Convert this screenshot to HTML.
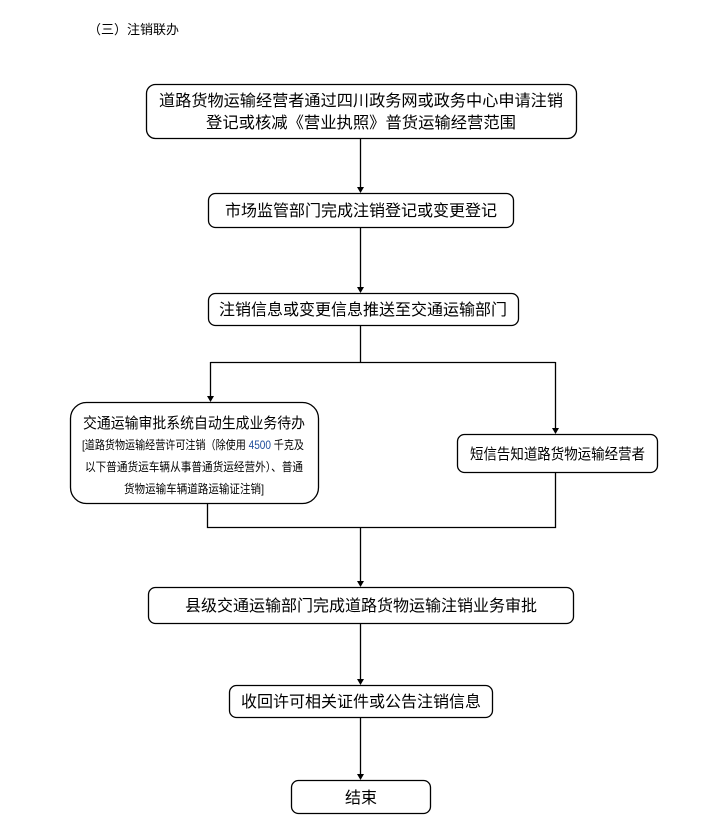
<!DOCTYPE html>
<html><head><meta charset="utf-8"><style>
html,body{margin:0;padding:0;background:#fff;}
svg{display:block;}
text{font-family:"Liberation Sans","Noto Sans CJK SC",sans-serif;fill:#000;}
</style></head><body>
<svg width="709" height="827" viewBox="0 0 709 827" xmlns="http://www.w3.org/2000/svg">
<text x="88" y="34" font-size="13">（三）注销联办</text>
<g fill="none" stroke="#000" stroke-width="1.3">
<rect x="146.5" y="84.5" width="430" height="54" rx="9"/>
<rect x="208.5" y="193.5" width="305" height="34" rx="7"/>
<rect x="208.5" y="293.5" width="310" height="32" rx="7"/>
<rect x="70.5" y="402.5" width="248" height="101" rx="16"/>
<rect x="457.5" y="434.5" width="200" height="38" rx="7"/>
<rect x="148.5" y="587.5" width="425" height="36" rx="7"/>
<rect x="229.5" y="685.5" width="263" height="32" rx="7"/>
<rect x="291.5" y="780.5" width="139" height="33" rx="7"/>
<path d="M360.5,139 V188"/>
<path d="M360.5,228 V288"/>
<path d="M360.5,326 V362.5"/>
<path d="M210.5,362.5 H555.5"/>
<path d="M210.5,362 V397"/>
<path d="M555.5,362 V429"/>
<path d="M207.5,504 V527.5 H555.5 V473"/>
<path d="M360.5,527 V582"/>
<path d="M360.5,624 V680"/>
<path d="M360.5,718 V775"/>
</g>
<g fill="#000">
<polygon points="357,187 364,187 360.5,193"/>
<polygon points="357,287 364,287 360.5,293"/>
<polygon points="207,396 214,396 210.5,402"/>
<polygon points="552,428 559,428 555.5,434"/>
<polygon points="357,581 364,581 360.5,587"/>
<polygon points="357,679 364,679 360.5,685"/>
<polygon points="357,774 364,774 360.5,780"/>
</g>
<g text-anchor="middle" font-size="16">
<text x="361" y="106" textLength="404" lengthAdjust="spacingAndGlyphs">道路货物运输经营者通过四川政务网或政务中心申请注销</text>
<text x="361" y="128" textLength="310" lengthAdjust="spacingAndGlyphs">登记或核减《营业执照》普货运输经营范围</text>
<text x="361" y="216">市场监管部门完成注销登记或变更登记</text>
<text x="363" y="315">注销信息或变更信息推送至交通运输部门</text>
<text x="361" y="611">县级交通运输部门完成道路货物运输注销业务审批</text>
<text x="361" y="707">收回许可相关证件或公告注销信息</text>
<text x="361" y="803">结束</text>
</g>
<text x="83" y="428" font-size="15" textLength="222" lengthAdjust="spacingAndGlyphs">交通运输审批系统自动生成业务待办</text>
<text x="470" y="459" font-size="15" textLength="175" lengthAdjust="spacingAndGlyphs">短信告知道路货物运输经营者</text>
<g font-size="12">
<text x="82" y="449" textLength="222" lengthAdjust="spacingAndGlyphs">[道路货物运输经营许可注销（除使用 <tspan fill="#1f4e9c">4500</tspan> 千克及</text>
<text x="85" y="471" textLength="218" lengthAdjust="spacingAndGlyphs">以下普通货运车辆从事普通货运经营外）、普通</text>
<text x="124" y="493" textLength="140" lengthAdjust="spacingAndGlyphs">货物运输车辆道路运输证注销]</text>
</g>
</svg>
</body></html>
